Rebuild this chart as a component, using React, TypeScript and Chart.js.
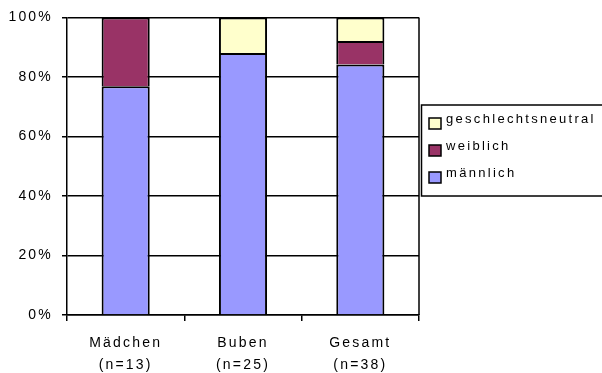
import React, { useEffect, useRef } from "react";
import { Chart, registerables } from "chart.js";

Chart.register(...registerables);

const categories: string[][] = [["Mädchen", "(n=13)"], ["Buben", "(n=25)"], ["Gesamt", "(n=38)"]];
const maennlich = [76.9, 88, 84.2];
const weiblich = [23.1, null, 7.9];
const neutral = [null, 12, 7.9];
const yTicks = [0, 20, 40, 60, 80, 100];

const FONT = "'Liberation Sans', Arial, sans-serif";

const spacingPlugin = {
  id: "spacing",
  beforeUpdate(chart: any) {
    chart.ctx.letterSpacing = "2.2px";
  },
  beforeDraw(chart: any) {
    chart.ctx.letterSpacing = "2.2px";
  },
};

const framePlugin = {
  id: "frame",
  afterDraw(chart: any) {
    const ctx = chart.ctx;
    const { right, top, bottom } = chart.chartArea;
    ctx.save();
    ctx.strokeStyle = "#000";
    ctx.lineWidth = 1.5;
    ctx.beginPath();
    ctx.moveTo(right, top);
    ctx.lineTo(right, bottom);
    ctx.stroke();
    // legend
    const lx = right + 2;
    const ly = 105;
    ctx.lineWidth = 1.5;
    ctx.strokeRect(lx + 0.5, ly, 200, 91);
    ctx.font = "13px " + FONT;
    ctx.letterSpacing = "2.3px";
    ctx.textBaseline = "alphabetic";
    ctx.textAlign = "left";
    const ds = chart.data.datasets;
    const order = [2, 1, 0];
    order.forEach((di: number, i: number) => {
      const d = ds[di];
      const sy = 118 + i * 27;
      ctx.fillStyle = d.backgroundColor;
      ctx.fillRect(lx + 8, sy, 12, 11);
      ctx.lineWidth = 1.5;
      ctx.strokeRect(lx + 8, sy, 12, 11);
      ctx.fillStyle = "#000";
      ctx.fillText(d.label, lx + 25, sy + 5);
    });
    ctx.restore();
  },
};

export default function App() {
  const ref = useRef<HTMLCanvasElement>(null);
  useEffect(() => {
    const barStyle = { borderColor: "#000", borderWidth: 2, borderSkipped: "start", inflateAmount: 0 };
    const chart = new Chart(ref.current as HTMLCanvasElement, {
      type: "bar",
      data: {
        labels: categories,
        datasets: [
          { label: "männlich", data: maennlich, backgroundColor: "#9999FF", ...barStyle },
          { label: "weiblich", data: weiblich, backgroundColor: "#993366", ...barStyle },
          { label: "geschlechtsneutral", data: neutral, backgroundColor: "#FFFFCC", ...barStyle },
        ],
      } as any,
      options: {
        animation: false,
        responsive: false,
        maintainAspectRatio: false,
        layout: { padding: { top: 16, right: 183, left: 0, bottom: 0 } },
        datasets: { bar: { barPercentage: 0.41, categoryPercentage: 1 } },
        plugins: { legend: { display: false }, tooltip: { enabled: false } },
        scales: {
          x: {
            stacked: true,
            offset: true,
            grid: { display: true, drawOnChartArea: false, drawTicks: true, tickLength: 6, color: "#000", lineWidth: 1.5, offset: true },
            border: { display: true, color: "#000", width: 1.5 },
            ticks: { color: "#000", font: { family: FONT, size: 14, lineHeight: 1.6 }, padding: 11, maxRotation: 0, autoSkip: false },
            afterFit(scale: any) { scale.height = 58; },
          },
          y: {
            stacked: true,
            min: 0,
            max: 100,
            afterBuildTicks(scale: any) { scale.ticks = yTicks.map((v) => ({ value: v })); },
            grid: { color: "#000", lineWidth: 1.5, drawTicks: true, tickLength: 5 },
            border: { display: true, color: "#000", width: 1.5 },
            ticks: { color: "#000", font: { family: FONT, size: 14 }, padding: 9, callback: (v: any) => v + "%" },
            afterFit(scale: any) { scale.width = 67; },
          },
        },
      },
      plugins: [spacingPlugin, framePlugin],
    });
    return () => chart.destroy();
  }, []);
  return (
    <div style={{ position: "fixed", left: 0, top: 0, width: 602, height: 373, background: "#fff" }}>
      <canvas ref={ref} width={602} height={373} style={{ width: 602, height: 373 }} />
    </div>
  );
}
